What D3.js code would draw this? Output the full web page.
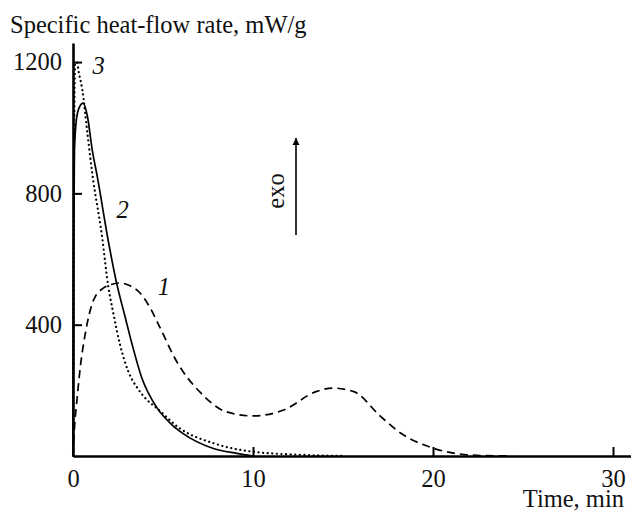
<!DOCTYPE html>
<html>
<head>
<meta charset="utf-8">
<script src="https://cdn.jsdelivr.net/npm/d3@7"></script>
<style>
  body { margin: 0; background: #fff; }
  text { font-family: "Liberation Serif", "DejaVu Serif", serif; fill: #111; }
</style>
</head>
<body>
<div id="chart-wrap"></div>
<script>
const width = 631;
const height = 513;
const fontSize = 24.5;

// curve 1 (dashed)
const time1 = [0, 0.04, 0.1, 0.22, 0.41, 0.69, 1.15, 1.7, 2.1, 2.6, 3.1, 3.7, 4.3, 4.8, 5.8, 7.1, 8.5, 10.0, 11.7, 13.5, 14.4, 15.6, 17.1, 18.2, 20.0, 21.5, 23.0, 24.4];
const flow1 = [0, 49, 100, 171, 273, 375, 476, 512, 522, 527, 520, 498, 450, 395, 284, 192, 135, 122, 140, 196, 207, 196, 120, 70, 24, 6, 1, 0];

// curve 2 (solid)
const time2 = [0, 0.03, 0.08, 0.2, 0.35, 0.56, 0.8, 1.07, 1.35, 1.98, 2.43, 2.89, 3.26, 3.81, 4.65, 5.5, 6.1, 7.8, 9.1, 10.0];
const flow2 = [0, 600, 930, 1030, 1062, 1075, 1035, 932, 851, 649, 525, 425, 345, 240, 148, 95, 69, 23, 8, 0];

// curve 3 (dotted)
const time3 = [0, 0.03, 0.07, 0.12, 0.2, 0.33, 0.52, 0.8, 1.07, 1.61, 1.96, 2.24, 2.61, 3.07, 3.63, 4.09, 4.65, 5.94, 7.8, 10.0, 13.0, 15.0];
const flow3 = [0, 600, 1000, 1195, 1200, 1166, 1115, 983, 861, 670, 516, 435, 340, 258, 203, 172, 146, 84, 39, 13, 3, 0];

const xTicks = [0, 10, 20, 30];
const yTicks = [400, 800, 1200];

const svg = d3.select("#chart-wrap")
  .append("svg")
  .attr("width", width)
  .attr("height", height);

const x = d3.scaleLinear().domain([0, 31]).range([73, 631]);
const y = d3.scaleLinear().domain([0, 1258]).range([456, 43]);

// axes
const xAxis = svg.append("g")
  .attr("transform", "translate(0,456)")
  .call(d3.axisBottom(x).tickValues(xTicks).tickSize(-9).tickSizeOuter(0).tickPadding(14));

const yAxis = svg.append("g")
  .attr("transform", "translate(73,0)")
  .call(d3.axisLeft(y).tickValues(yTicks).tickFormat(d3.format("d")).tickSize(-9).tickSizeOuter(0).tickPadding(11));

[xAxis, yAxis].forEach(function(g) {
  g.select(".domain").attr("stroke", "#000").attr("stroke-width", 2.6);
  g.selectAll(".tick line").attr("stroke", "#000").attr("stroke-width", 2);
  g.selectAll(".tick text")
    .attr("font-family", "Liberation Serif, serif")
    .attr("font-size", fontSize)
    .attr("fill", "#111");
});
xAxis.selectAll(".tick").filter(d => d === 0).select("line").remove();

// lines
const line = d3.line()
  .x(d => x(d[0]))
  .y(d => y(d[1]))
  .curve(d3.curveMonotoneX);

const series = [
  {t: time1, v: flow1, dash: "8,5", cap: "butt"},
  {t: time2, v: flow2, dash: null, cap: "butt"},
  {t: time3, v: flow3, dash: "0.1,4.5", cap: "round"}
];

series.forEach(function(s) {
  svg.append("path")
    .datum(s.t.map((t, i) => [t, s.v[i]]))
    .attr("fill", "none")
    .attr("stroke", "#000")
    .attr("stroke-width", s.cap === "round" ? 2.2 : 1.7)
    .attr("stroke-linecap", s.cap)
    .attr("stroke-dasharray", s.dash)
    .attr("d", line);
});

// curve labels
const curveLabels = [
  {text: "1", t: 5.05, v: 490},
  {text: "2", t: 2.75, v: 725},
  {text: "3", t: 1.43, v: 1165}
];
svg.selectAll(".clabel")
  .data(curveLabels)
  .enter().append("text")
  .attr("class", "clabel")
  .attr("x", d => x(d.t))
  .attr("y", d => y(d.v))
  .attr("text-anchor", "middle")
  .attr("font-size", fontSize)
  .attr("font-style", "italic")
  .text(d => d.text);

// axis titles
svg.append("text")
  .attr("x", 10)
  .attr("y", 33)
  .attr("font-size", fontSize)
  .text("Specific heat-flow rate, mW/g");

svg.append("text")
  .attr("x", 624)
  .attr("y", 507)
  .attr("text-anchor", "end")
  .attr("font-size", fontSize)
  .text("Time, min");

// exo arrow
svg.append("defs").append("marker")
  .attr("id", "arrow")
  .attr("viewBox", "0 0 10 10")
  .attr("refX", 10).attr("refY", 5)
  .attr("markerWidth", 7).attr("markerHeight", 9)
  .attr("markerUnits", "userSpaceOnUse")
  .attr("orient", "auto")
  .append("path")
  .attr("d", "M0,0 L10,5 L0,10 Z")
  .attr("fill", "#000");

svg.append("line")
  .attr("x1", 296).attr("y1", 235)
  .attr("x2", 296).attr("y2", 138)
  .attr("stroke", "#000")
  .attr("stroke-width", 1.6)
  .attr("marker-end", "url(#arrow)");

svg.append("text")
  .attr("transform", "translate(284,191) rotate(-90)")
  .attr("text-anchor", "middle")
  .attr("font-size", fontSize)
  .text("exo");
</script>
</body>
</html>
